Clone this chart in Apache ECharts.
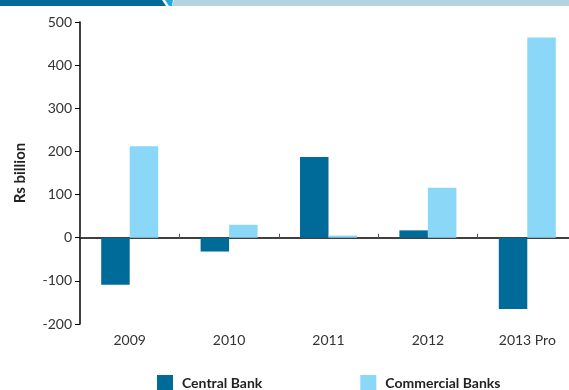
<!DOCTYPE html>
<html>
<head>
<meta charset="utf-8">
<script src="https://cdn.jsdelivr.net/npm/echarts@6/dist/echarts.min.js"></script>
<style>
  html, body { margin: 0; padding: 0; background: #fff; }
  #chart { width: 569px; height: 390px; }
</style>
</head>
<body>
<div id="chart"></div>
<script>
// Years on the category axis
const years = ['2009', '2010', '2011', '2012', '2013 Pro'];
// Net flows, Rs billion
const centralBank = [-109, -32, 187, 17, -165];
const commercialBanks = [212, 30, 5, 116, 464];
// Value axis range
const yMin = -200, yMax = 500, yStep = 100;

const DARK = '#006b98';
const LIGHT = '#8ad7f7';
const FONT = 'Lato, "Noto Sans", sans-serif';

const chart = echarts.init(document.getElementById('chart'), null, { renderer: 'canvas' });

chart.setOption({
  animation: false,
  textStyle: { fontFamily: FONT },
  grid: { left: 80, top: 22, width: 497, height: 302, containLabel: false, outerBoundsMode: 'none' },
  graphic: [
    // header band
    { type: 'polygon', shape: { points: [[0, 0], [162, 0], [166, 6], [0, 6]] }, style: { fill: '#006b98' }, silent: true },
    { type: 'polygon', shape: { points: [[165, 0], [173, 0], [172, 6], [169, 6]] }, style: { fill: '#22aae2' }, silent: true },
    { type: 'polygon', shape: { points: [[174, 0], [569, 0], [569, 6], [172, 6]] }, style: { fill: '#b3d3df' }, silent: true }
  ],
  legend: {
    left: 157,
    top: 375,
    padding: 0,
    itemWidth: 16,
    itemHeight: 16,
    itemGap: 98,
    icon: 'rect',
    textStyle: { fontSize: 14, color: '#222', fontFamily: FONT, fontWeight: 'bold', padding: [0, 0, 6, 4] },
    data: ['Central Bank', 'Commercial Banks']
  },
  xAxis: [
    {
      type: 'category',
      data: years,
      position: 'bottom',
      axisLine: { show: false, onZero: false },
      axisTick: { show: false },
      axisLabel: { fontSize: 14, color: '#333', margin: 9, fontFamily: FONT }
    },
    {
      type: 'category',
      data: years,
      axisLine: { show: true, onZero: true, lineStyle: { color: '#000', width: 1.5 } },
      axisTick: { show: true, inside: false, length: 4, lineStyle: { color: '#555' } },
      axisLabel: { show: false }
    }
  ],
  yAxis: {
    type: 'value',
    min: yMin,
    max: yMax,
    interval: yStep,
    name: 'Rs billion',
    nameLocation: 'middle',
    nameGap: 52,
    nameTextStyle: { fontSize: 15, fontWeight: 'bold', color: '#222', fontFamily: FONT },
    axisLine: { show: true, lineStyle: { color: '#000', width: 1.5 } },
    axisTick: { show: true, inside: false, length: 5, lineStyle: { color: '#000' } },
    axisLabel: { fontSize: 14, color: '#333', margin: 8, fontFamily: FONT },
    splitLine: { show: false }
  },
  series: [
    {
      name: 'Central Bank',
      type: 'bar',
      xAxisIndex: 0,
      data: centralBank,
      barWidth: 28.5,
      barGap: '0%',
      itemStyle: { color: DARK }
    },
    {
      name: 'Commercial Banks',
      type: 'bar',
      xAxisIndex: 0,
      data: commercialBanks,
      barWidth: 28.5,
      barGap: '0%',
      itemStyle: { color: LIGHT }
    }
  ]
});
</script>
</body>
</html>
